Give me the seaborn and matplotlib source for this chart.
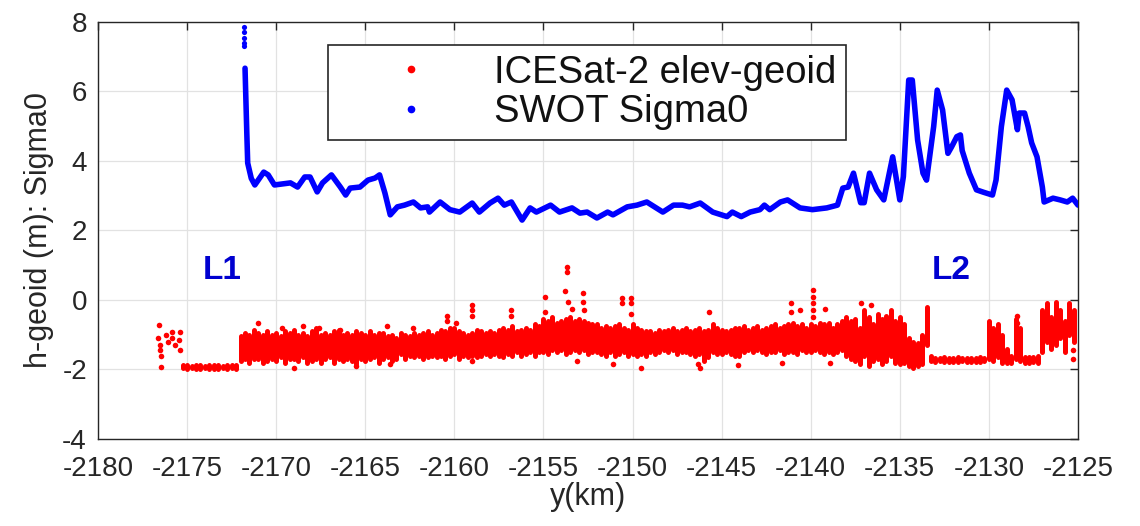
import numpy as np
import pandas as pd
import matplotlib
matplotlib.use('Agg')
import matplotlib.pyplot as plt
from matplotlib.lines import Line2D
import seaborn as sns

# SWOT Sigma0 profile (blue)
swot_x = [-2171.75, -2171.65, -2171.6, -2171.4, -2171.2, -2170.7, -2170.45, -2170.1,
          -2169.2, -2168.8, -2168.4, -2168.1, -2167.7, -2167.4, -2166.9, -2166.4,
          -2166.1, -2165.85, -2165.3, -2164.85, -2164.45, -2164.2, -2163.9, -2163.6,
          -2163.2, -2162.8, -2162.3, -2161.9, -2161.5, -2161.4, -2160.8, -2160.25,
          -2159.7, -2159.0, -2158.6, -2158.0, -2157.55, -2157.2, -2156.8, -2156.2,
          -2155.75, -2155.4, -2154.6, -2154.1, -2153.4, -2152.95, -2152.55, -2152.0,
          -2151.4, -2151.1, -2150.3, -2149.75, -2149.2, -2148.3, -2147.7, -2147.2,
          -2146.8, -2146.2, -2145.5, -2144.7, -2144.4, -2143.9, -2143.4, -2142.85,
          -2142.6, -2142.3, -2141.7, -2141.3, -2140.6, -2139.9, -2139.1, -2138.5,
          -2138.2, -2137.9, -2137.6, -2137.2, -2137.0, -2136.7, -2136.3, -2135.9,
          -2135.4, -2135.0, -2134.8, -2134.5, -2134.3, -2134.0, -2133.7, -2133.5,
          -2133.1, -2132.9, -2132.6, -2132.3, -2132.1, -2131.8, -2131.6, -2131.5,
          -2131.1, -2130.7, -2130.3, -2129.8, -2129.6, -2129.3, -2129.0, -2128.7,
          -2128.4, -2128.3, -2128.0, -2127.8, -2127.6, -2127.3, -2127.0, -2126.9,
          -2126.4, -2126.0, -2125.6, -2125.3, -2125.0]
swot_y = [6.67, 4.8, 3.94, 3.5, 3.31, 3.68, 3.6, 3.31,
          3.37, 3.25, 3.54, 3.54, 3.11, 3.37, 3.6, 3.25,
          3.02, 3.22, 3.25, 3.45, 3.51, 3.6, 3.08, 2.45,
          2.68, 2.73, 2.82, 2.65, 2.68, 2.53, 2.82, 2.6,
          2.53, 2.79, 2.53, 2.79, 2.93, 2.73, 2.82, 2.3,
          2.65, 2.53, 2.73, 2.53, 2.65, 2.5, 2.53, 2.36,
          2.53, 2.45, 2.68, 2.73, 2.82, 2.53, 2.73, 2.73,
          2.68, 2.79, 2.53, 2.4, 2.53, 2.4, 2.53, 2.6,
          2.73, 2.6, 2.82, 2.88, 2.65, 2.6, 2.65, 2.73,
          3.22, 3.25, 3.65, 2.8, 2.8, 3.65, 3.17, 2.88,
          4.12, 2.88, 3.55, 6.33, 6.33, 4.6, 3.65, 3.45,
          4.99, 6.04, 5.47, 4.22, 4.4, 4.7, 4.75, 4.3,
          3.65, 3.17, 3.1, 3.02, 3.45, 4.99, 6.04, 5.76,
          4.9, 5.38, 5.38, 4.99, 4.52, 4.12, 3.25, 2.82,
          2.93, 2.88, 2.82, 2.93, 2.73]
swot_top_x = [-2171.78, -2171.78, -2171.78, -2171.78, -2171.78]
swot_top_y = [7.85, 7.7, 7.55, 7.4, 7.3]

# ICESat-2 elev-geoid (red): dense track as low/high envelope per 0.25 km column
band_x = [-2175.25, -2175.0, -2174.75, -2174.5, -2174.25, -2174.0, -2173.75,
          -2173.5, -2173.25, -2173.0, -2172.75, -2172.5, -2172.25,
          -2172.0, -2171.75, -2171.5, -2171.25, -2171.0, -2170.75, -2170.5, -2170.25,
          -2170.0, -2169.75, -2169.5, -2169.25, -2169.0, -2168.75, -2168.5, -2168.25,
          -2168.0, -2167.75, -2167.5, -2167.25, -2167.0, -2166.75, -2166.5, -2166.25,
          -2166.0, -2165.75, -2165.5, -2165.25, -2165.0, -2164.75, -2164.5, -2164.25,
          -2164.0, -2163.75, -2163.5, -2163.25, -2163.0, -2162.75, -2162.5, -2162.25,
          -2162.0, -2161.75, -2161.5, -2161.25, -2161.0, -2160.75, -2160.5, -2160.25,
          -2160.0, -2159.75, -2159.5, -2159.25, -2159.0, -2158.75, -2158.5, -2158.25,
          -2158.0, -2157.75, -2157.5, -2157.25, -2157.0, -2156.75, -2156.5, -2156.25,
          -2156.0, -2155.75, -2155.5, -2155.25, -2155.0, -2154.75, -2154.5, -2154.25,
          -2154.0, -2153.75, -2153.5, -2153.25, -2153.0, -2152.75, -2152.5, -2152.25,
          -2152.0, -2151.75, -2151.5, -2151.25, -2151.0, -2150.75, -2150.5, -2150.25,
          -2150.0, -2149.75, -2149.5, -2149.25, -2149.0, -2148.75, -2148.5, -2148.25,
          -2148.0, -2147.75, -2147.5, -2147.25, -2147.0, -2146.75, -2146.5, -2146.25,
          -2146.0, -2145.75, -2145.5, -2145.25, -2145.0, -2144.75, -2144.5, -2144.25,
          -2144.0, -2143.75, -2143.5, -2143.25, -2143.0, -2142.75, -2142.5, -2142.25,
          -2142.0, -2141.75, -2141.5, -2141.25, -2141.0, -2140.75, -2140.5, -2140.25,
          -2140.0, -2139.75, -2139.5, -2139.25, -2139.0, -2138.75, -2138.5, -2138.25,
          -2138.0, -2137.75, -2137.5, -2137.25, -2137.0, -2136.75, -2136.5, -2136.25,
          -2136.0, -2135.75, -2135.5, -2135.25, -2135.0, -2134.75, -2134.5, -2134.25,
          -2134.0, -2133.75, -2133.5, -2133.25, -2133.0, -2132.75, -2132.5, -2132.25,
          -2132.0, -2131.75, -2131.5, -2131.25, -2131.0, -2130.75, -2130.5, -2130.25,
          -2130.0, -2129.75, -2129.5, -2129.25, -2129.0, -2128.75, -2128.5, -2128.25,
          -2128.0, -2127.75, -2127.5, -2127.25, -2127.0, -2126.75, -2126.5, -2126.25,
          -2126.0, -2125.75, -2125.5, -2125.25]
band_hi = [-1.88, -1.86, -1.89, -1.87, -1.88, -1.9, -1.87, -1.88, -1.86, -1.89, -1.87, -1.88, -1.86,
           -1.05, -0.95, -1.0, -0.85, -0.95, -1.0, -0.9, -1.0,
           -0.95, -1.05, -0.9, -0.95, -0.85, -1.0, -0.95, -1.05,
           -0.9, -0.8, -1.0, -0.95, -1.0, -0.9, -0.85, -1.0,
           -0.95, -1.0, -0.9, -0.95, -1.0, -0.9, -1.0, -0.95,
           -0.95, -1.05, -1.0, -1.1, -0.95, -1.0, -1.05, -0.95,
           -1.0, -0.95, -0.9, -1.0, -0.95, -0.85, -0.9, -0.8,
           -0.8, -0.9, -0.95, -1.0, -0.95, -0.85, -0.9, -0.95,
           -0.9, -0.95, -0.85, -0.8, -0.85, -0.75, -0.9, -0.85,
           -0.8, -0.85, -0.7, -0.75, -0.55, -0.6, -0.5, -0.65,
           -0.6, -0.55, -0.5, -0.6, -0.55, -0.6, -0.65, -0.7,
           -0.7, -0.8, -0.75, -0.8, -0.75, -0.7, -0.8, -0.85,
           -0.7, -0.8, -0.85, -0.9, -0.9, -0.95, -0.85, -0.9,
           -0.85, -0.8, -0.9, -0.85, -0.8, -0.9, -0.85, -0.8,
           -0.9, -0.85, -0.7, -0.8, -0.85, -0.9, -0.85, -0.8,
           -0.8, -0.75, -0.85, -0.8, -0.75, -0.85, -0.8, -0.75,
           -0.7, -0.8, -0.75, -0.7, -0.65, -0.75, -0.7, -0.8,
           -0.7, -0.75, -0.65, -0.7, -0.65, -0.8, -0.7, -0.6,
           -0.5, -0.6, -0.55, -0.8, -0.3, -0.5, -0.7, -0.4,
           -0.55, -0.45, -0.3, -0.6, -0.5, -0.7, -1.1, -1.2,
           -1.25, -1.0, -0.2, -1.6, -1.66, -1.68, -1.65, -1.67,
           -1.67, -1.65, -1.66, -1.68, -1.66, -1.67, -1.65, -1.66,
           -0.6, -0.8, -0.7, -1.0, -1.4, -1.6, -0.55, -0.8,
           -1.65, -1.65, -1.65, -1.6, -0.3, -0.1, -0.5, -0.05,
           -0.3, -0.6, -0.1, -0.3]
band_lo = [-1.97, -1.99, -1.96, -2.0, -1.98, -1.97, -2.0, -1.98, -1.99, -1.97, -1.98, -1.96, -1.98,
           -1.75, -1.7, -1.8, -1.7, -1.7, -1.8, -1.75, -1.7,
           -1.75, -1.65, -1.8, -1.7, -1.7, -1.75, -1.65, -1.8,
           -1.75, -1.7, -1.8, -1.7, -1.65, -1.8, -1.7, -1.75,
           -1.7, -1.75, -1.85, -1.7, -1.75, -1.7, -1.65, -1.8,
           -1.7, -1.65, -1.75, -1.7, -1.55, -1.7, -1.6, -1.65,
           -1.6, -1.7, -1.65, -1.6, -1.65, -1.6, -1.7, -1.6,
           -1.55, -1.7, -1.6, -1.65, -1.6, -1.65, -1.6, -1.55,
           -1.6, -1.55, -1.6, -1.65, -1.55, -1.6, -1.5, -1.6,
           -1.55, -1.5, -1.6, -1.5, -1.5, -1.55, -1.45, -1.5,
           -1.45, -1.55, -1.5, -1.45, -1.5, -1.45, -1.55, -1.5,
           -1.5, -1.55, -1.6, -1.5, -1.6, -1.55, -1.5, -1.6,
           -1.55, -1.6, -1.55, -1.6, -1.5, -1.55, -1.5, -1.45,
           -1.5, -1.45, -1.55, -1.5, -1.5, -1.55, -1.6, -1.55,
           -1.75, -1.65, -1.5, -1.55, -1.55, -1.5, -1.55, -1.6,
           -1.6, -1.5, -1.45, -1.5, -1.45, -1.5, -1.55, -1.5,
           -1.5, -1.45, -1.55, -1.5, -1.5, -1.55, -1.45, -1.5,
           -1.5, -1.45, -1.5, -1.55, -1.5, -1.55, -1.5, -1.45,
           -1.6, -1.7, -1.75, -1.85, -1.6, -1.9, -1.75, -1.7,
           -1.85, -1.75, -1.6, -1.8, -1.85, -1.8, -1.9, -1.95,
           -1.9, -1.85, -1.3, -1.75, -1.78, -1.76, -1.79, -1.77,
           -1.77, -1.79, -1.76, -1.78, -1.78, -1.77, -1.79, -1.76,
           -1.7, -1.75, -1.65, -1.8, -1.8, -1.8, -1.7, -1.75,
           -1.8, -1.8, -1.78, -1.8, -1.5, -1.2, -1.4, -1.3,
           -1.1, -1.5, -1.0, -1.2]

# ICESat-2 isolated returns (outside the dense envelope)
ice_x = [-2176.6, -2176.65, -2176.55, -2176.5, -2176.45, -2176.45, -2176.2, -2176.1,
         -2175.85, -2175.85, -2175.7, -2175.4, -2175.45, -2175.4,
         -2171.0, -2169.7, -2168.5, -2167.6, -2166.4, -2163.8, -2162.3,
         -2160.4, -2160.4, -2159.9, -2159.0, -2159.0, -2159.0, -2156.8, -2156.8,
         -2154.9, -2154.9, -2153.7, -2153.7, -2153.8, -2153.6, -2153.4,
         -2152.8, -2152.8, -2152.7, -2150.6, -2150.6, -2150.1, -2150.1, -2150.1,
         -2145.7, -2141.1, -2141.1, -2140.6, -2139.9, -2139.9, -2139.9, -2139.9,
         -2139.9, -2139.2, -2137.2, -2136.6, -2128.4, -2128.4,
         -2169.0, -2165.5, -2163.6, -2159.0, -2153.1, -2151.1, -2149.5, -2146.2,
         -2146.3, -2144.1, -2141.6, -2138.9, -2125.3, -2125.3]
ice_y = [-0.72, -1.09, -1.3, -1.45, -1.93, -1.6, -1.0, -1.2,
         -0.92, -1.09, -1.3, -0.92, -1.15, -1.44,
         -0.65, -0.8, -0.75, -0.8, -0.85, -0.75, -0.8,
         -0.45, -0.6, -0.65, -0.15, -0.3, -0.45, -0.3, -0.45,
         0.1, -0.35, 0.95, 0.8, 0.25, -0.05, -0.25,
         0.2, -0.05, -0.3, 0.07, -0.1, 0.07, -0.1, -0.4,
         -0.35, -0.1, -0.35, -0.3, 0.3, 0.1, -0.1, -0.3,
         -0.5, -0.25, -0.1, -0.15, -0.45, -0.65,
         -1.95, -1.9, -1.85, -1.75, -1.75, -1.85, -1.95, -1.95,
         -1.85, -1.87, -1.8, -1.8, -1.7, -1.45]

x_ticks = [-2180, -2175, -2170, -2165, -2160, -2155, -2150, -2145, -2140, -2135, -2130, -2125]
y_ticks = [-4, -2, 0, 2, 4, 6, 8]

red = '#ff0000'
blue = '#0000ff'
dark = '#262626'

sns.set_style('white')
plt.rcParams['font.family'] = ['Liberation Sans', 'DejaVu Sans']
plt.rcParams['axes.unicode_minus'] = False

fig = plt.figure(figsize=(11.4, 5.26), dpi=100)
ax = fig.add_axes([0.086, 0.1654, 0.8596, 0.7928])

swot = pd.DataFrame({'x': swot_x, 'y': swot_y})
ice = pd.DataFrame({'x': ice_x, 'y': ice_y})

# dense ICESat-2 track
ax.vlines(band_x, band_lo, band_hi, color=red, linewidth=3.6, capstyle='round', zorder=3)
sns.scatterplot(data=ice, x='x', y='y', color=red, s=16, linewidth=0, ax=ax, zorder=3)

# SWOT Sigma0
sns.lineplot(data=swot, x='x', y='y', color=blue, linewidth=4.0, sort=False,
             estimator=None, ax=ax, zorder=4)
ax.scatter(swot_top_x, swot_top_y, color=blue, s=14, linewidth=0, zorder=4)

ax.set_xlim(-2180, -2125)
ax.set_ylim(-4, 8)
ax.set_xticks(x_ticks)
ax.set_yticks(y_ticks)
ax.grid(True, color='#e2e2e2', linewidth=0.9)
ax.set_axisbelow(True)
for sp in ax.spines.values():
    sp.set_color(dark)
    sp.set_linewidth(1.0)
    sp.set_visible(True)
ax.tick_params(direction='in', length=6, width=1, color=dark, labelcolor=dark,
               labelsize=20, top=True, right=True, pad=8)
ax.tick_params(axis='x', pad=12)

ax.set_xlabel('y(km)', fontsize=22, color=dark, labelpad=0)
ax.set_ylabel('h-geoid (m): Sigma0', fontsize=22, color=dark, labelpad=6)

ax.text(-2173.05, 0.86, 'L1', color='#0000d0', fontsize=24, fontweight='bold',
        ha='center', va='center')
ax.text(-2132.1, 0.86, 'L2', color='#0000d0', fontsize=24, fontweight='bold',
        ha='center', va='center')

handles = [Line2D([], [], linestyle='none', marker='.', color=red, markersize=9),
           Line2D([], [], linestyle='none', marker='.', color=blue, markersize=9)]
leg = ax.legend(handles, ['ICESat-2 elev-geoid', 'SWOT Sigma0'], loc='upper left',
                bbox_to_anchor=(0.2347, 0.9448), borderaxespad=0, fontsize=27.5,
                handlelength=3.87, handletextpad=0.22, borderpad=0.25,
                labelspacing=0.1, frameon=True, fancybox=False)
leg.get_frame().set_edgecolor(dark)
leg.get_frame().set_linewidth(1.2)
leg.get_frame().set_facecolor('white')
leg.get_frame().set_alpha(1)
for t in leg.get_texts():
    t.set_color('#111111')

plt.savefig('out.png', dpi=100)
